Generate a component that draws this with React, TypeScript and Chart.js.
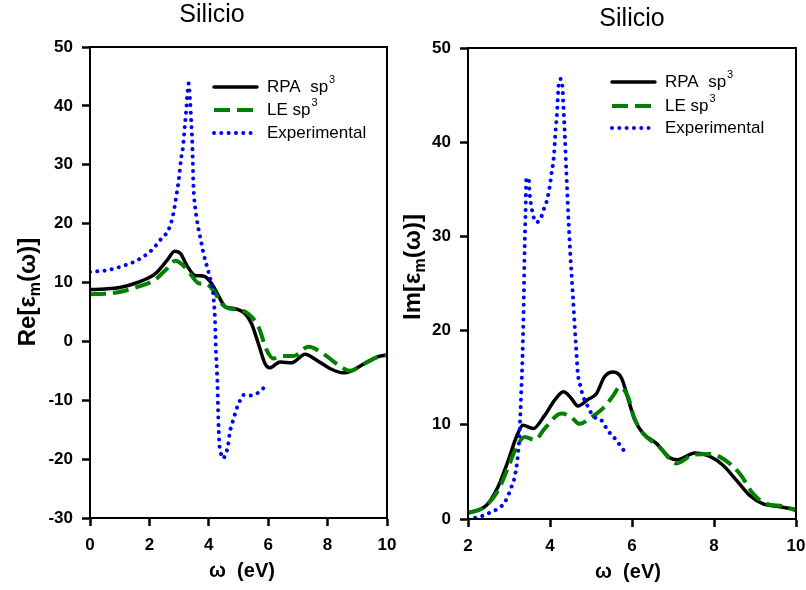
import React, { useEffect, useRef } from "react";
import { Chart, registerables } from "chart.js";

Chart.register(...registerables);

const FONT = "'Liberation Sans', Arial, Helvetica, sans-serif";

// ---------- Left chart: Re[eps_m(w)] ----------
const reRpaX = [0, 0.5, 1, 1.6, 2.2, 2.6, 2.85, 3.05, 3.26, 3.54, 3.82, 4.1, 4.32, 4.55, 4.83, 5.22, 5.44, 5.67, 5.89, 6.05, 6.4, 6.79, 7.24, 7.63, 8.08, 8.53, 8.81, 9.2, 9.65, 10];
const reRpaY = [8.8, 8.9, 9.15, 10.0, 11.5, 13.8, 15.3, 14.9, 12.9, 11.2, 11.1, 9.8, 7.8, 5.9, 5.6, 4.7, 3.0, -0.4, -3.75, -4.5, -3.5, -3.65, -2.2, -3.2, -4.6, -5.35, -5.0, -3.9, -2.7, -2.3];

const reLeX = [0, 0.5, 1, 1.6, 2.2, 2.6, 2.88, 3.14, 3.37, 3.65, 3.93, 4.15, 4.43, 4.66, 4.99, 5.33, 5.67, 5.95, 6.17, 6.45, 6.85, 7.35, 7.91, 8.36, 8.75, 9.2, 9.65, 10];
const reLeY = [8.0, 8.1, 8.4, 9.25, 10.5, 12.4, 13.7, 12.9, 11.5, 9.9, 9.7, 8.7, 6.4, 5.6, 5.4, 4.7, 2.5, -1.5, -2.9, -2.5, -2.5, -0.9, -2.3, -4.0, -5.0, -3.9, -2.7, -2.3];

const reExpX = [0, 0.6, 1.1, 1.6, 2.08, 2.41, 2.64, 2.78, 2.92, 3.0, 3.06, 3.13, 3.17, 3.23, 3.28, 3.32, 3.37, 3.4, 3.44, 3.46, 3.48, 3.54, 3.6, 3.66, 3.74, 3.81, 3.89, 3.98, 4.07, 4.15, 4.21, 4.24, 4.29, 4.32, 4.35, 4.4, 4.47, 4.58, 4.65, 4.71, 4.79, 4.86, 4.94, 5.03, 5.16, 5.41, 5.67, 5.89];
const reExpY = [11.8, 12.1, 12.8, 13.8, 15.5, 17.5, 18.9, 21.1, 25.1, 27.9, 30.8, 33.0, 35.3, 38.7, 42.1, 43.8, 41.0, 38.1, 34.2, 30.8, 26.8, 22.8, 20.6, 18.9, 17.0, 15.2, 13.6, 12.0, 10.2, 8.0, 3.5, -1.5, -7.0, -13.0, -17.0, -18.8, -19.9, -19.0, -17.6, -15.4, -13.9, -12.7, -11.4, -10.3, -9.1, -9.2, -8.7, -7.7];

// ---------- Right chart: Im[eps_m(w)] ----------
const imRpaX = [2.0, 2.45, 2.73, 2.98, 3.18, 3.34, 3.59, 3.87, 4.11, 4.33, 4.52, 4.68, 4.93, 5.13, 5.33, 5.54, 5.74, 5.94, 6.07, 6.27, 6.6, 6.92, 7.12, 7.53, 7.9, 8.22, 8.55, 8.87, 9.2, 9.6, 10.0];
const imRpaY = [0.64, 1.45, 3.4, 6.2, 8.7, 9.95, 9.6, 11.0, 12.6, 13.5, 12.8, 12.0, 12.7, 13.3, 15.1, 15.6, 15.0, 12.25, 10.5, 9.1, 8.0, 6.5, 6.3, 7.0, 6.65, 5.7, 4.1, 2.5, 1.6, 1.3, 1.0];

const imLeX = [2.0, 2.41, 2.73, 2.98, 3.18, 3.38, 3.63, 3.87, 4.28, 4.52, 4.72, 5.01, 5.33, 5.54, 5.7, 5.9, 6.05, 6.27, 6.68, 7.08, 7.49, 7.9, 8.22, 8.63, 8.95, 9.28, 9.68, 10.0];
const imLeY = [0.6, 1.3, 3.0, 5.5, 7.6, 8.7, 8.4, 9.6, 11.2, 10.8, 10.1, 10.8, 11.9, 13.1, 14.0, 13.0, 10.8, 9.1, 7.6, 5.9, 6.8, 6.9, 6.4, 4.8, 2.7, 1.6, 1.35, 0.9];

const imExpX = [2.0, 2.33, 2.57, 2.73, 2.9, 3.06, 3.14, 3.22, 3.26, 3.3, 3.33, 3.36, 3.38, 3.41, 3.42, 3.48, 3.5, 3.55, 3.59, 3.67, 3.79, 3.85, 3.91, 3.99, 4.04, 4.09, 4.14, 4.17, 4.2, 4.22, 4.26, 4.3, 4.33, 4.36, 4.4, 4.46, 4.5, 4.55, 4.63, 4.68, 4.75, 4.8, 4.89, 4.97, 5.09, 5.25, 5.41, 5.62, 5.86];
const imExpY = [0, 0.3, 0.75, 1.1, 1.8, 3.4, 4.5, 6.9, 9.4, 13.7, 17.4, 23.2, 28.5, 33.8, 36.1, 36.2, 34.7, 33.1, 32.2, 31.5, 32.1, 32.9, 33.6, 35.2, 36.8, 38.3, 41.5, 43.0, 45.5, 46.4, 46.7, 46.1, 43.6, 40.9, 36.7, 31.0, 27.8, 24.3, 18.6, 15.4, 14.0, 13.1, 12.25, 11.5, 10.8, 10.5, 9.4, 8.35, 6.9];

const seriesNames = ["RPA  sp", "LE sp", "Experimental"];
const seriesSup = ["3", "3", ""];
const chartTitle = "Silicio";
const xTitle = "ω  (eV)";

const STYLES = [
  { color: "#000000", width: 3.5, dash: [] as number[], cap: "round" },
  { color: "#008000", width: 4, dash: [16, 7], cap: "butt" },
  { color: "#0000FF", width: 4, dash: [0.01, 7.3], cap: "round" },
];

const toPts = (xs: number[], ys: number[]) => xs.map((x, i) => ({ x, y: ys[i] }));

const decorPlugin = {
  id: "decor",
  afterDraw(chart: any, _args: any, opts: any) {
    const ctx = chart.ctx as CanvasRenderingContext2D;
    const a = chart.chartArea;
    ctx.save();
    // frame
    ctx.setLineDash([]);
    ctx.strokeStyle = "#000";
    ctx.lineWidth = 2;
    ctx.strokeRect(a.left, a.top, a.right - a.left, a.bottom - a.top);

    ctx.fillStyle = "#000";
    // title
    ctx.font = `25px ${FONT}`;
    ctx.textAlign = "center";
    ctx.textBaseline = "middle";
    ctx.fillText(chartTitle, opts.titleX, opts.titleY);

    // x title
    ctx.font = `bold 20px ${FONT}`;
    ctx.fillText(xTitle, opts.xTitleX, opts.xTitleY);

    // y title, rotated, with subscript
    const mainF = `bold 24px ${FONT}`;
    const subF = `bold 16px ${FONT}`;
    const parts = [
      { t: opts.yPre, f: mainF, dy: 0 },
      { t: "m", f: subF, dy: 5 },
      { t: "(ω)]", f: mainF, dy: 0 },
    ];
    let total = 0;
    const ws = parts.map((p) => {
      ctx.font = p.f;
      const w = ctx.measureText(p.t).width;
      total += w;
      return w;
    });
    ctx.save();
    ctx.translate(opts.yTitleX, opts.yTitleY);
    ctx.rotate(-Math.PI / 2);
    ctx.textAlign = "left";
    ctx.textBaseline = "alphabetic";
    let cx = -total / 2;
    parts.forEach((p, i) => {
      ctx.font = p.f;
      ctx.fillText(p.t, cx, p.dy);
      cx += ws[i];
    });
    ctx.restore();

    // legend
    const lg = opts.legend;
    seriesNames.forEach((name, i) => {
      const s = STYLES[i];
      const y = lg.rows[i];
      ctx.save();
      ctx.strokeStyle = s.color;
      ctx.lineWidth = s.width;
      ctx.lineCap = s.cap as CanvasLineCap;
      ctx.setLineDash(s.dash);
      ctx.beginPath();
      ctx.moveTo(lg.x1, y);
      ctx.lineTo(lg.x2, y);
      ctx.stroke();
      ctx.restore();
      ctx.textAlign = "left";
      ctx.textBaseline = "middle";
      ctx.font = `17px ${FONT}`;
      ctx.fillText(name, lg.tx, y);
      if (seriesSup[i]) {
        const w = ctx.measureText(name).width;
        ctx.font = `11px ${FONT}`;
        ctx.fillText(seriesSup[i], lg.tx + w + 1, y - 7);
      }
    });
    ctx.restore();
  },
};

function makeConfig(p: any): any {
  const tickFont = { family: FONT, size: 17, weight: "bold" as const };
  const grid = {
    display: true,
    drawOnChartArea: false,
    drawTicks: true,
    tickLength: 8,
    tickWidth: 2.5,
    tickColor: "#000",
  };
  return {
    type: "line",
    data: {
      datasets: p.series.map((d: any, i: number) => ({
        data: toPts(d[0], d[1]),
        borderColor: STYLES[i].color,
        borderWidth: STYLES[i].width,
        borderDash: STYLES[i].dash,
        borderCapStyle: STYLES[i].cap,
        borderJoinStyle: "round",
        pointRadius: 0,
        fill: false,
        cubicInterpolationMode: "monotone",
        order: 3 - i,
      })),
    },
    options: {
      responsive: false,
      animation: false,
      devicePixelRatio: 1,
      layout: { padding: p.padding },
      plugins: {
        legend: { display: false },
        title: { display: false },
        tooltip: { enabled: false },
        decor: p.decor,
      },
      scales: {
        x: {
          type: "linear",
          min: p.xMin,
          max: 10,
          ticks: { stepSize: 2, color: "#000", font: tickFont, padding: 9, maxRotation: 0 },
          grid,
          border: { display: true, color: "#000", width: 2 },
          afterFit: (s: any) => {
            s.height = p.xH;
            s.paddingLeft = 0;
            s.paddingRight = 0;
          },
        },
        y: {
          type: "linear",
          min: p.yMin,
          max: 50,
          ticks: { stepSize: 10, color: "#000", font: tickFont, padding: 9 },
          grid,
          border: { display: true, color: "#000", width: 2 },
          afterFit: (s: any) => {
            s.width = p.yW;
            s.paddingTop = 0;
            s.paddingBottom = 0;
          },
        },
      },
    },
    plugins: [decorPlugin],
  };
}

function ChartCanvas({ cfg, left }: { cfg: any; left: number }) {
  const ref = useRef<HTMLCanvasElement | null>(null);
  useEffect(() => {
    if (!ref.current) return;
    const c = new Chart(ref.current, cfg);
    return () => c.destroy();
  }, [cfg]);
  return (
    <canvas
      ref={ref}
      width={403}
      height={590}
      style={{ position: "absolute", left, top: 0, width: 403, height: 590 }}
    />
  );
}

const leftCfg = makeConfig({
  series: [
    [reRpaX, reRpaY],
    [reLeX, reLeY],
    [reExpX, reExpY],
  ],
  xMin: 0,
  yMin: -30,
  padding: { top: 47, right: 16, left: 0, bottom: 0 },
  xH: 72,
  yW: 90,
  decor: {
    titleX: 212,
    titleY: 15,
    xTitleX: 242,
    xTitleY: 571,
    yPre: "Re[ε",
    yTitleX: 35,
    yTitleY: 292,
    legend: { x1: 214, x2: 257, tx: 267, rows: [87, 110, 133] },
  },
});

const rightCfg = makeConfig({
  series: [
    [imRpaX, imRpaY],
    [imLeX, imLeY],
    [imExpX, imExpY],
  ],
  xMin: 2,
  yMin: 0,
  padding: { top: 48, right: 10, left: 0, bottom: 0 },
  xH: 71,
  yW: 65,
  decor: {
    titleX: 229,
    titleY: 19,
    xTitleX: 225,
    xTitleY: 572,
    yPre: "Im[ε",
    yTitleX: 17,
    yTitleY: 267,
    legend: { x1: 209, x2: 252, tx: 262, rows: [82, 106, 128] },
  },
});

export default function App() {
  return (
    <div style={{ position: "absolute", left: 0, top: 0, width: 806, height: 590, background: "#fff" }}>
      <ChartCanvas cfg={leftCfg} left={0} />
      <ChartCanvas cfg={rightCfg} left={403} />
    </div>
  );
}
